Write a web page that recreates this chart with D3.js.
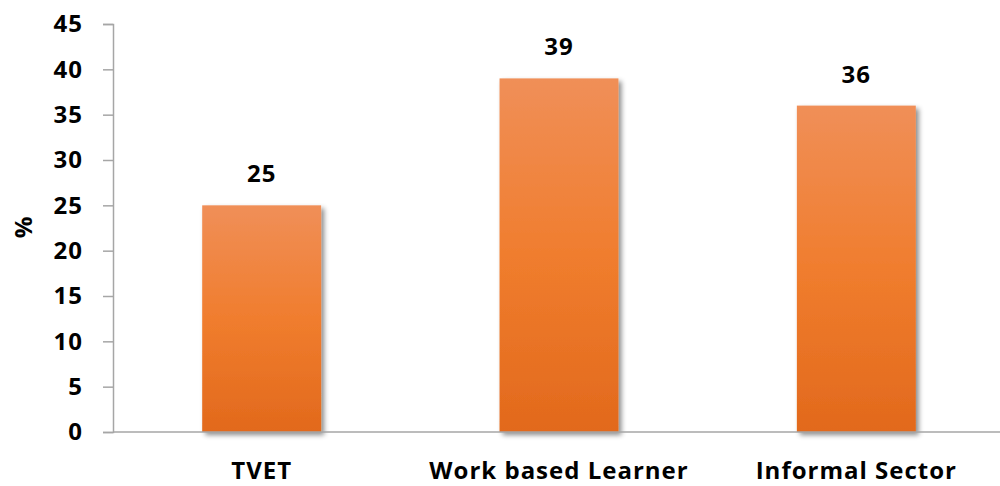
<!DOCTYPE html>
<html>
<head>
<meta charset="utf-8">
<script src="https://cdn.jsdelivr.net/npm/d3@7"></script>
<style>
  body { margin: 0; background: #fff; }
  svg text { font-family: "Open Sans", sans-serif; font-weight: bold; fill: #000; letter-spacing: 1px; }
</style>
</head>
<body>
<script>
var categories = ["TVET", "Work based Learner", "Informal Sector"];
var values = [25, 39, 36];
var yTicks = [0, 5, 10, 15, 20, 25, 30, 35, 40, 45];

var width = 1000, height = 486;
var margin = {top: 24, right: 0, bottom: 54, left: 113};

var svg = d3.select("body").append("svg")
  .attr("width", width)
  .attr("height", height);

var defs = svg.append("defs");
var grad = defs.append("linearGradient")
  .attr("id", "barGrad")
  .attr("x1", 0).attr("y1", 0).attr("x2", 0).attr("y2", 1);
grad.append("stop").attr("offset", "0%").attr("stop-color", "#F08F58");
grad.append("stop").attr("offset", "50%").attr("stop-color", "#F07D2E");
grad.append("stop").attr("offset", "100%").attr("stop-color", "#E2691C");

var shadow = defs.append("filter").attr("id", "shadow")
  .attr("x", "-10%").attr("y", "-10%").attr("width", "130%").attr("height", "130%");
shadow.append("feDropShadow")
  .attr("dx", 3).attr("dy", 3).attr("stdDeviation", 2.5)
  .attr("flood-color", "#000").attr("flood-opacity", 0.45);

var x = d3.scaleBand()
  .domain(categories)
  .range([margin.left, 1005])
  .paddingInner(0.6)
  .paddingOuter(0.3);

var y = d3.scaleLinear()
  .domain([0, 45])
  .range([432, margin.top]);

// y axis
var yAxis = svg.append("g")
  .attr("transform", "translate(" + margin.left + ",0)")
  .call(d3.axisLeft(y).tickValues(yTicks).tickSize(10).tickPadding(20));
yAxis.select(".domain").attr("stroke", "#A6A6A6").attr("stroke-width", 1.5);
yAxis.selectAll(".tick line").attr("stroke", "#A6A6A6").attr("stroke-width", 1.5);
yAxis.selectAll(".tick text").style("font-size", "24px").attr("fill", "#000");

// bars
svg.selectAll(".bar")
  .data(values)
  .enter().append("rect")
  .attr("class", "bar")
  .attr("x", function(d, i) { return x(categories[i]); })
  .attr("width", x.bandwidth())
  .attr("y", function(d) { return y(d); })
  .attr("height", function(d) { return y(0) - y(d); })
  .attr("fill", "url(#barGrad)")
  .attr("filter", "url(#shadow)");

// x axis line
svg.append("line")
  .attr("x1", margin.left).attr("x2", width)
  .attr("y1", y(0)).attr("y2", y(0))
  .attr("stroke", "#A6A6A6").attr("stroke-width", 1.5);

// category labels
svg.selectAll(".cat")
  .data(categories)
  .enter().append("text")
  .attr("class", "cat")
  .attr("x", function(d) { return x(d) + x.bandwidth() / 2; })
  .attr("y", 479)
  .attr("text-anchor", "middle")
  .style("font-size", "24px")
  .text(function(d) { return d; });

// value labels
svg.selectAll(".val")
  .data(values)
  .enter().append("text")
  .attr("class", "val")
  .attr("x", function(d, i) { return x(categories[i]) + x.bandwidth() / 2; })
  .attr("y", function(d) { return y(d) - 23; })
  .attr("text-anchor", "middle")
  .style("font-size", "24px")
  .text(function(d) { return d; });

// y title
svg.append("text")
  .attr("transform", "translate(32,227) rotate(-90)")
  .attr("text-anchor", "middle")
  .style("font-size", "24px")
  .text("%");
</script>
</body>
</html>
